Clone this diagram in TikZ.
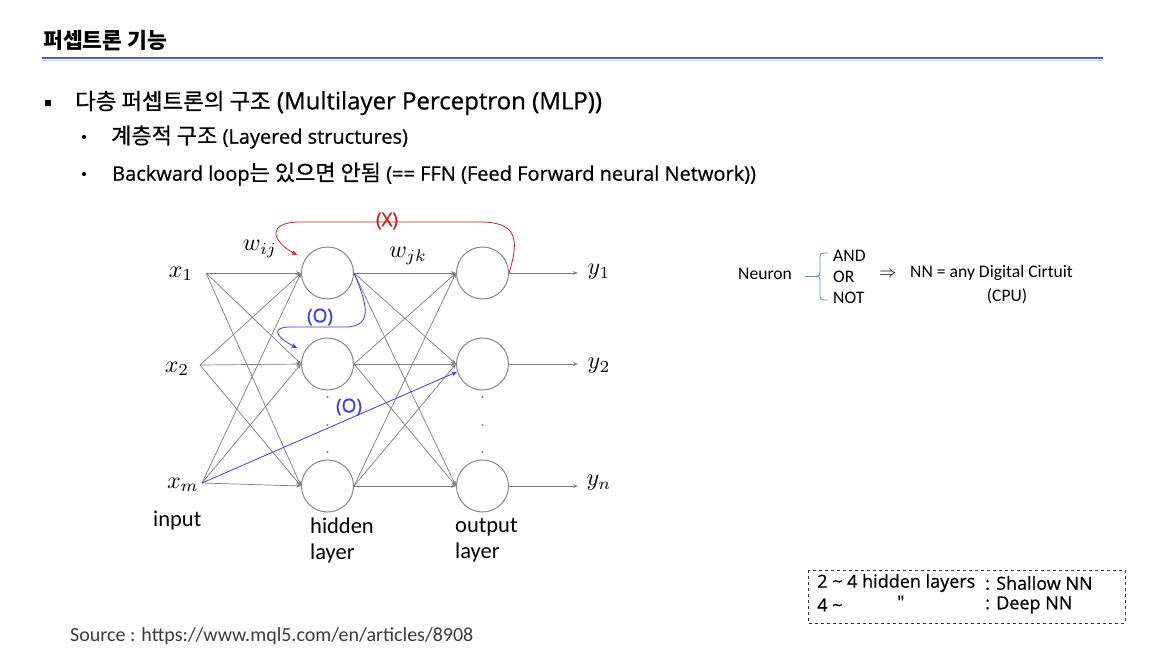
\documentclass[tikz,border=0pt]{standalone}
\usepackage{fontspec}
\setmainfont{Carlito}
\newfontfamily\kr[FakeBold=0.6]{Noto Sans CJK KR}
\newfontfamily\krb{Noto Sans CJK KR}
\newfontfamily\lat[FakeBold=0.6]{Open Sans}
\usetikzlibrary{arrows.meta}
\definecolor{wiregray}{RGB}{125,125,125}
\definecolor{cellgray}{RGB}{135,135,135}
\definecolor{ruleblue}{RGB}{78,88,222}
\definecolor{xred}{RGB}{205,35,35}
\definecolor{oblue}{RGB}{62,62,232}
\definecolor{bracecol}{RGB}{95,140,205}
\definecolor{srcgray}{RGB}{60,60,60}
% math symbols at label size
\newcommand{\bigmath}[1]{\scalebox{2.4}{$#1$}}

\begin{document}
\begin{tikzpicture}[x=1pt,y=-1pt,
  neuron/.style={circle,draw=cellgray,line width=1pt,minimum size=52pt,inner sep=0pt},
  wire/.style={draw=wiregray,line width=0.7pt,-{Stealth[length=5pt,width=3.6pt]}},
  mathlbl/.style={inner sep=0pt},
  layerlbl/.style={inner sep=0pt,anchor=north west,align=left,font=\fontsize{22.5}{26}\selectfont},
  sidetxt/.style={inner sep=0pt,font=\fontsize{17.6}{21}\selectfont},
  head/.style={inner sep=0pt,anchor=west},
  boxtxt/.style={inner sep=0pt,anchor=west,font=\lat\fontsize{18}{22}\selectfont},
  marklbl/.style={inner sep=0pt,font=\lat\fontsize{19}{22}\selectfont},
  dotmark/.style={circle,fill=wiregray,inner sep=0pt,minimum size=2.4pt}]

\useasboundingbox (0,0) rectangle (1168,656);
\fill[white] (0,0) rectangle (1168,656);

% slide title and rule
\node[inner sep=0pt,anchor=west,font=\krb\bfseries\fontsize{21.6}{25}\selectfont] (title) at (43,41) {퍼셉트론 기능};
\draw[black!18,line width=1.6pt] (42,60.5) -- (1103,60.5);
\draw[ruleblue,line width=1.8pt] (42,58) -- (1103,58);

% bullet list
\fill (45,100) rectangle (51,106);
\node[head] (h-mlp) at (75,103) {{\kr\fontsize{22.4}{26}\selectfont 다층 퍼셉트론의 구조}{\lat\fontsize{24}{26}\selectfont\ (Multilayer Perceptron (MLP))}};
\fill (84,137) circle (2.1pt);
\node[head] (h-layer) at (111,137) {{\kr\fontsize{22}{26}\selectfont 계층적 구조}{\lat\fontsize{20}{24}\selectfont\ (Layered structures)}};
\fill (84,174) circle (2.1pt);
\node[head] (h-ffn) at (112,174) {{\lat\fontsize{20}{24}\selectfont Backward loop}{\kr\fontsize{22}{26}\selectfont 는 있으면 안됨}{\lat\fontsize{20}{24}\selectfont\ (== FFN (Feed Forward neural Network))}};

% input fan points
\coordinate (i1) at (206,273);
\coordinate (i2) at (200,365);
\coordinate (i3) at (202,483);
\node[mathlbl] (x1) at (181,274) {\bigmath{x_1}};
\node[mathlbl] (x2) at (177,369) {\bigmath{x_2}};
\node[mathlbl] (xm) at (183,485) {\bigmath{x_m}};

% neurons
\node[neuron] (h1) at (327.5,273) {};
\node[neuron] (h2) at (327.5,364) {};
\node[neuron] (h3) at (327.5,486) {};
\node[neuron] (o1) at (482.5,273) {};
\node[neuron] (o2) at (482.5,364) {};
\node[neuron] (o3) at (482.5,486) {};

% input -> hidden
\foreach \i in {i1,i2,i3}
  \foreach \h in {h1,h2,h3}
    \draw[wire] (\i) -- (\h.west);
% hidden -> output
\foreach \h in {h1,h2,h3}
  \foreach \o in {o1,o2,o3}
    \draw[wire] (\h.east) -- (\o.west);

% outputs
\coordinate (e1) at (578,273);
\coordinate (e2) at (578,364);
\coordinate (e3) at (578,486);
\draw[wire] (o1.east) -- (e1);
\draw[wire] (o2.east) -- (e2);
\draw[wire] (o3.east) -- (e3);
\node[mathlbl] (y1) at (599,272) {\bigmath{y_1}};
\node[mathlbl] (y2) at (599,366) {\bigmath{y_2}};
\node[mathlbl] (yn) at (599,483) {\bigmath{y_n}};

% weight labels
\node[mathlbl] (wij) at (260,249) {\bigmath{w_{ij}}};
\node[mathlbl] (wjk) at (408,256) {\bigmath{w_{jk}}};

% vertical ellipses
\foreach \y in {397,425,452} {
  \node[dotmark] at (327.5,\y) {};
  \node[dotmark] at (482.5,\y) {};
}

% forbidden backward loop
\coordinate (xtip) at (297,255);
\draw[xred,line width=0.8pt,-{Stealth[length=6pt,width=5pt]}]
  (o1.east) .. controls (520,238) and (516,222) .. (480,222) -- (300,222)
  .. controls (268,222) and (270,240) .. (xtip);
\node[marklbl,text=xred] (xlbl) at (387,221) {(X)};

% allowed lateral connection
\coordinate (otip) at (297,348);
\draw[oblue,line width=0.8pt,-{Stealth[length=6pt,width=5pt]}]
  (h1.east) .. controls (365,300) and (376,327) .. (345,327) -- (290,327)
  .. controls (272,327) and (274,336) .. (otip);
\node[marklbl,text=oblue] (olbl1) at (320,317) {(O)};

% allowed skip connection
\draw[oblue,line width=0.8pt,-{Stealth[length=6pt,width=5pt]}] (i3) -- (o2.197);
\node[marklbl,text=oblue] (olbl2) at (349,407) {(O)};

% layer captions
\node[layerlbl] (cin) at (153,511) {input};
\node[layerlbl] (chid) at (310,518) {hidden\\layer};
\node[layerlbl] (cout) at (455,518) {output\\layer};

% neuron as logic gate
\node[sidetxt] (neuron) at (765,274) {Neuron};
\draw[bracecol,line width=0.8pt] (805,276) -- (817,276);
\draw[bracecol,line width=0.8pt]
  (828,253) -- (824,253) .. controls (821,253) and (820,254) .. (820,257) -- (820,272)
  .. controls (820,275) and (819,276) .. (817,276)
  .. controls (819,276) and (820,277) .. (820,280) -- (820,296)
  .. controls (820,299) and (821,300) .. (824,300) -- (828,300);
\node[sidetxt,anchor=west] (and) at (833,256) {AND};
\node[sidetxt,anchor=west] (or) at (833,277) {OR};
\node[sidetxt,anchor=west] (not) at (833,298) {NOT};
\node[sidetxt] (impl) at (888,274) {$\Rightarrow$};
\node[sidetxt,anchor=west] (nn) at (910,273) {NN = any Digital Cirtuit};
\node[sidetxt] (cpu) at (1007,296) {(CPU)};

% depth classification
\draw[black!80,dashed,line width=0.8pt] (808,570) rectangle (1125,623);
\node[boxtxt] (b1a) at (817,583) {2 \textasciitilde{} 4 hidden layers};
\node[boxtxt] (b1b) at (985,583) {: Shallow NN};
\node[boxtxt] (b2a) at (817,605) {4 \textasciitilde};
\node[boxtxt] (b2q) at (897,602) {"};
\node[boxtxt] (b2b) at (985,605) {: Deep NN};

% source
\node[inner sep=0pt,anchor=west,text=srcgray,font=\fontsize{20}{24}\selectfont] (src) at (70,636) {Source : https://www.mql5.com/en/articles/8908};
\end{tikzpicture}
\end{document}
